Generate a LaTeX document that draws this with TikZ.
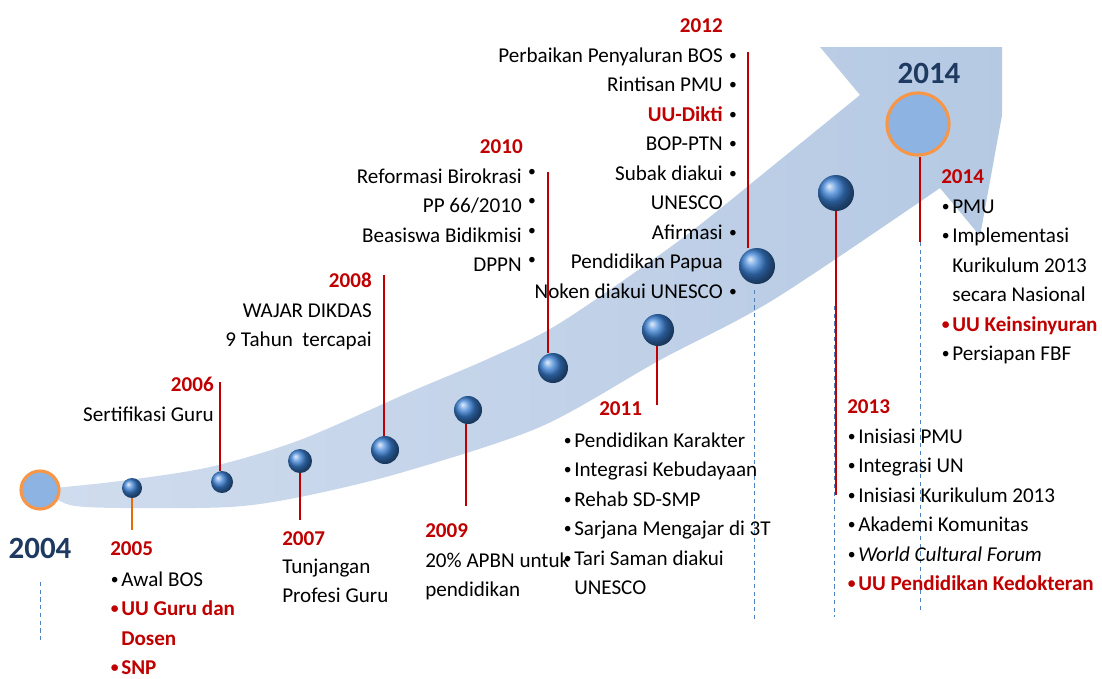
\documentclass[tikz,border=0pt]{standalone}
\usepackage{fontspec}
\usepackage{graphicx}
\setmainfont{Carlito}
\definecolor{yrred}{RGB}{192,0,0}
\definecolor{yrblue}{RGB}{31,58,96}
\definecolor{arrowL}{RGB}{208,220,238}
\definecolor{arrowR}{RGB}{181,201,227}
\definecolor{ballc}{RGB}{58,128,212}
\definecolor{circfill}{RGB}{141,179,226}
\definecolor{circedge}{RGB}{247,150,70}
\definecolor{dashc}{RGB}{79,129,189}
\definecolor{orangeln}{RGB}{228,108,10}
\newcommand\bul{\raisebox{1.2pt}{\scalebox{0.74}{\textbullet}}}
\newcommand\bl{\makebox[0pt][r]{\bul\hspace{1.8pt}}}
\newcommand\br{\makebox[0pt][l]{\hspace{4.6pt}\bul}}
\newcommand\brr{\makebox[0pt][l]{\hspace{4.6pt}\raisebox{3.5pt}{\bul}}}
\newcommand\lstL[1]{\begin{tabular}[t]{@{}l@{}}#1\end{tabular}}
\newcommand\lstR[1]{\begin{tabular}[t]{@{}r@{}}#1\end{tabular}}
\newcommand\hl[1]{\textcolor{yrred}{\bfseries #1}}
\tikzset{
  body/.style={font=\fontsize{15}{21}\selectfont, inner sep=0, text=black},
  yr/.style={font=\fontsize{15}{21}\selectfont\bfseries, text=yrred, inner sep=0},
  bigyr/.style={font=\fontsize{22}{26}\selectfont\bfseries, text=yrblue, inner sep=0},
  ball/.style={circle, inner sep=0, shading=ball, ball color=ballc},
  bigcirc/.style={circle, inner sep=0, fill=circfill, draw=circedge, line width=2.2pt},
  stem/.style={draw=yrred, line width=0.85pt},
  dashln/.style={draw=dashc, dash pattern=on 3pt off 2.5pt, line width=0.6pt}
}
\begin{document}
\begin{tikzpicture}[x=0.025cm,y=-0.025cm]
\useasboundingbox (0,0) rectangle (1102,678);
% big arrow
\begin{scope}
\clip (0,47) rectangle (1002,678);
\shade[left color=arrowL, right color=arrowR]
  plot[smooth] coordinates {(44,489) (120,481) (210,467) (300,440) (410,392) (490,358) (560,323) (680,240) (780,160) (860,95)}
  -- (820,47) -- (1015,44) -- (980,236) -- (940,188)
  -- plot[smooth] coordinates {(940,188) (773,300) (660,360) (540,427) (400,473) (300,497) (230,507) (120,508) (70,505) (44,491)}
  -- cycle;
\end{scope}
% coordinates
\coordinate (e2005) at (132,530);
\coordinate (t2006) at (220,382);
\coordinate (e2007) at (300,520);
\coordinate (t2008) at (384,275);
\coordinate (e2009) at (466,506);
\coordinate (t2010) at (548,172);
\coordinate (e2011) at (657,405);
\coordinate (t2012) at (748,52);
\coordinate (e2013) at (836,495);
\coordinate (e2014) at (920,242);
\coordinate (f2014) at (920,612);
\coordinate (d2004a) at (40,582);
\coordinate (d2004b) at (40,643);
\coordinate (d2012a) at (754,290);
\coordinate (d2012b) at (754,622);
\coordinate (d2013a) at (834,306);
\coordinate (d2013b) at (834,617);
% balls
\node[ball, minimum size=0.5cm]  (b2005) at (132,488) {};
\node[ball, minimum size=0.55cm] (b2006) at (222,482) {};
\node[ball, minimum size=0.6cm]  (b2007) at (300,461) {};
\node[ball, minimum size=0.7cm]  (b2008) at (385,450) {};
\node[ball, minimum size=0.7cm]  (b2009) at (468,410) {};
\node[ball, minimum size=0.75cm] (b2010) at (553,368) {};
\node[ball, minimum size=0.8cm]  (b2011) at (658,330) {};
\node[ball, minimum size=0.9cm]  (b2012) at (757,266) {};
\node[ball, minimum size=0.9cm]  (b2013) at (836,193) {};
\node[bigcirc, minimum size=0.95cm] (c2004) at (40,490) {};
\node[bigcirc, minimum size=1.55cm] (c2014) at (918,124) {};
% dashed lines
\draw[dashln] (d2004a) -- (d2004b);
\draw[dashln] (d2012a) -- (d2012b);
\draw[dashln] (d2013a) -- (d2013b);
\draw[dashln] (e2014) -- (f2014);
% stems
\draw[draw=orangeln, line width=0.85pt] (b2005.south) -- (b2005.south |- e2005);
\draw[stem] (t2006) -- (t2006 |- b2006.north);
\draw[stem] (b2007.south) -- (b2007.south |- e2007);
\draw[stem, line width=1.5pt] (t2008) -- (t2008 |- b2008.north);
\draw[stem] (e2009 |- b2009.south) -- (e2009);
\draw[stem] (t2010) -- (t2010 |- b2010.north);
\draw[stem] (e2011 |- b2011.south) -- (e2011);
\draw[stem] (t2012) -- (t2012 |- b2012.north);
\draw[stem] (b2013.south) -- (e2013);
\draw[stem] (e2014 |- c2014.south) -- (e2014);
% big years
\node[bigyr, anchor=base] (y2004) at (40,558) {2004};
\node[bigyr, anchor=base] (y2014top) at (929,83) {2014};
% 2005
\node[yr, anchor=base west] (y2005) at (110,555) {2005};
\node[body, anchor=base west] (l2005) at (121,586) {\lstL{\bl Awal BOS\\ \hl{\bl UU Guru dan}\\ \hl{Dosen}\\ \hl{\bl SNP}}};
% 2006
\node[yr, anchor=base east] (y2006) at (214,391) {2006};
\node[body, anchor=base east] (l2006) at (214,421) {Sertifikasi Guru};
% 2007
\node[yr, anchor=base west] (y2007) at (282,545) {2007};
\node[body, anchor=base west] (l2007) at (282,573) {\lstL{Tunjangan\\ Profesi Guru}};
% 2008
\node[yr, anchor=base east] (y2008) at (372,287) {2008};
\node[body, anchor=base east] (l2008) at (372,317) {\lstR{WAJAR DIKDAS\\ 9 Tahun\ \ tercapai}};
% 2009
\node[yr, anchor=base west] (y2009) at (425,537) {2009};
\node[body, anchor=base west] (l2009) at (425,567) {\lstL{20\% APBN untuk\\ pendidikan}};
% 2010
\node[yr, anchor=base east] (y2010) at (523,153) {2010};
\node[body, anchor=base east] (l2010) at (522,183) {\lstR{Reformasi Birokrasi\brr\\ PP 66/2010\brr\\ Beasiswa Bidikmisi\brr\\ DPPN\brr}};
% 2011
\node[yr, anchor=base west] (y2011) at (599,415) {2011};
\node[body, anchor=base west] (l2011) at (574,447) {\lstL{\bl Pendidikan Karakter\\ \bl Integrasi Kebudayaan\\ \bl Rehab SD-SMP\\ \bl Sarjana Mengajar di 3T\\ \bl Tari Saman diakui\\ UNESCO}};
% 2012
\node[yr, anchor=base east] (y2012) at (723,32) {2012};
\node[body, anchor=base east] (l2012) at (723,62) {\lstR{Perbaikan Penyaluran BOS\br\\ Rintisan PMU\br\\ \hl{UU-Dikti}\br\\ BOP-PTN\br\\ Subak diakui\br\\ UNESCO\\ Afirmasi\br\\ Pendidikan Papua\\ Noken diakui UNESCO\br}};
% 2013
\node[yr, anchor=base west] (y2013) at (847,413) {2013};
\node[body, anchor=base west] (l2013) at (858,443) {\lstL{\bl Inisiasi PMU\\ \bl Integrasi UN\\ \bl Inisiasi Kurikulum 2013\\ \bl Akademi Komunitas\\ \bl \textit{World Cultural Forum}\\ \hl{\bl UU Pendidikan Kedokteran}}};
% 2014
\node[yr, anchor=base west] (y2014) at (941,183) {2014};
\node[body, anchor=base west] (l2014) at (952,213) {\lstL{\bl PMU\\ \bl Implementasi\\ Kurikulum 2013\\ secara Nasional\\ \hl{\bl UU Keinsinyuran}\\ \bl Persiapan FBF}};
\end{tikzpicture}
\end{document}
